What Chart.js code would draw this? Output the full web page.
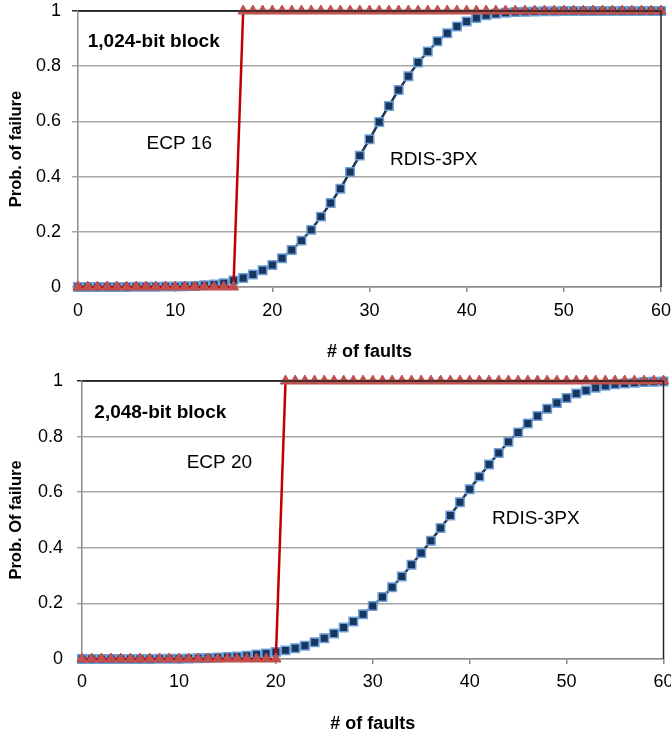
<!DOCTYPE html>
<html>
<head>
<meta charset="utf-8">
<script src="https://cdn.jsdelivr.net/npm/chart.js@4/dist/chart.umd.min.js"></script>
<style>
  html, body { margin: 0; padding: 0; background: #fff; }
  canvas { display: block; }
</style>
</head>
<body>
<canvas id="top" width="671" height="368"></canvas>
<canvas id="bottom" width="671" height="368"></canvas>
<script>
// x values: number of faults
const faults = [0, 1, 2, 3, 4, 5, 6, 7, 8, 9, 10, 11, 12, 13, 14, 15, 16, 17, 18, 19, 20,
  21, 22, 23, 24, 25, 26, 27, 28, 29, 30, 31, 32, 33, 34, 35, 36, 37, 38, 39, 40,
  41, 42, 43, 44, 45, 46, 47, 48, 49, 50, 51, 52, 53, 54, 55, 56, 57, 58, 59, 60];

// 1,024-bit block
const rdis1024 = [0, 0, 0, 0, 0, 0, 0.001, 0.001, 0.001, 0.002, 0.002, 0.003, 0.004, 0.006, 0.009, 0.014,
  0.024, 0.033, 0.045, 0.061, 0.08, 0.104, 0.134, 0.168, 0.207, 0.255, 0.304, 0.356, 0.417, 0.476,
  0.535, 0.598, 0.656, 0.714, 0.764, 0.813, 0.853, 0.89, 0.919, 0.944, 0.962, 0.975, 0.985, 0.99,
  0.994, 0.996, 0.997, 0.998, 0.999, 0.999, 1, 1, 1, 1, 1, 1, 1, 1, 1, 1, 1];
const ecp16 = [0, 0, 0, 0, 0, 0, 0, 0, 0, 0, 0, 0, 0, 0, 0, 0, 0,
  1, 1, 1, 1, 1, 1, 1, 1, 1, 1, 1, 1, 1, 1, 1, 1, 1, 1, 1, 1, 1, 1, 1, 1, 1, 1,
  1, 1, 1, 1, 1, 1, 1, 1, 1, 1, 1, 1, 1, 1, 1, 1, 1, 1, 1];

// 2,048-bit block
const rdis2048 = [0, 0, 0, 0, 0, 0, 0, 0, 0.001, 0.001, 0.001, 0.002, 0.003, 0.004, 0.005, 0.007,
  0.009, 0.012, 0.016, 0.02, 0.025, 0.031, 0.039, 0.048, 0.06, 0.075, 0.092, 0.113, 0.135, 0.161,
  0.191, 0.223, 0.258, 0.297, 0.339, 0.381, 0.425, 0.471, 0.516, 0.564, 0.611, 0.656, 0.7, 0.741,
  0.781, 0.815, 0.847, 0.874, 0.9, 0.921, 0.939, 0.955, 0.966, 0.976, 0.983, 0.988, 0.991, 0.994,
  0.996, 0.997, 0.998];
const ecp20 = [0, 0, 0, 0, 0, 0, 0, 0, 0, 0, 0, 0, 0, 0, 0, 0, 0, 0, 0, 0, 0,
  1, 1, 1, 1, 1, 1, 1, 1, 1, 1, 1, 1, 1, 1, 1, 1, 1, 1, 1, 1, 1, 1,
  1, 1, 1, 1, 1, 1, 1, 1, 1, 1, 1, 1, 1, 1, 1, 1, 1, 1];

const yTicks = [0, 0.2, 0.4, 0.6, 0.8, 1];
const yTickLabels = ['0', '0.2', '0.4', '0.6', '0.8', '1'];
const xTitle = '# of faults';

const FONT = '"Liberation Sans", Arial, sans-serif';

function points(ys) {
    return faults.map((x, i) => ({ x: x, y: ys[i] }));
}

// black frame on top and right of the plot area, plus the text notes
const framePlugin = {
    id: 'frameNotes',
    afterDraw: (chart, args, options) => {
        const { ctx, chartArea: a } = chart;
        ctx.save();
        ctx.strokeStyle = '#262626';
        ctx.lineWidth = 1.5;
        ctx.beginPath();
        ctx.moveTo(a.left, a.top);
        ctx.lineTo(a.right, a.top);
        ctx.lineTo(a.right, a.bottom);
        ctx.stroke();
        ctx.fillStyle = '#000';
        ctx.textAlign = 'left';
        ctx.textBaseline = 'middle';
        (options.notes || []).forEach(n => {
            ctx.font = (n.bold ? 'bold ' : '') + '19px ' + FONT;
            ctx.fillText(n.text, chart.scales.x.getPixelForValue(n.x), chart.scales.y.getPixelForValue(n.y));
        });
        ctx.restore();
    }
};

function makeChart(id, cfg) {
    return new Chart(document.getElementById(id), {
        type: 'line',
        data: {
            datasets: [
                {
                    label: cfg.ecpLabel,
                    data: points(cfg.ecp),
                    borderColor: '#C00000',
                    borderWidth: 2.5,
                    pointStyle: 'triangle',
                    pointRadius: 6,
                    pointBackgroundColor: '#C0504D',
                    pointBorderColor: '#C0504D',
                    pointBorderWidth: 1,
                    clip: false,
                    order: 0,
                },
                {
                    label: 'RDIS-3PX',
                    data: points(cfg.rdis),
                    borderColor: '#1B3358',
                    borderWidth: 2.5,
                    pointStyle: 'rect',
                    pointRadius: 6,
                    pointBackgroundColor: '#17365D',
                    pointBorderColor: '#6F9FD8',
                    pointBorderWidth: 1.5,
                    clip: false,
                    order: 1,
                },
            ],
        },
        options: {
            responsive: false,
            animation: false,
            layout: { padding: { left: 0, right: cfg.padRight, top: cfg.padTop, bottom: 0 } },
            plugins: {
                legend: { display: false },
                tooltip: { enabled: false },
                frameNotes: { notes: cfg.notes },
            },
            scales: {
                x: {
                    type: 'linear',
                    min: 0,
                    max: 60,
                    ticks: { stepSize: 10, color: '#000', padding: cfg.xTickPad, font: { family: FONT, size: 18 } },
                    grid: { drawOnChartArea: false, drawTicks: true, tickLength: 5, color: '#8C8C8C', lineWidth: 1.5 },
                    border: { color: '#8C8C8C', width: 1.5 },
                    title: {
                        display: true,
                        text: xTitle,
                        color: '#000',
                        font: { family: FONT, size: 18, weight: 'bold' },
                        padding: { top: 0, bottom: cfg.xTitlePad },
                    },
                    afterFit: s => { s.height = cfg.xHeight; s.paddingLeft = 0; s.paddingRight = 0; },
                },
                y: {
                    min: 0,
                    max: 1,
                    afterBuildTicks: s => { s.ticks = yTicks.map(v => ({ value: v })); },
                    ticks: {
                        color: '#000',
                        padding: cfg.yTickPad,
                        font: { family: FONT, size: 18 },
                        callback: (v, i) => yTickLabels[i],
                    },
                    grid: {
                        color: c => (c.tick && c.tick.value === 1 ? '#262626' : '#A6A6A6'),
                        lineWidth: 1.5,
                        tickLength: cfg.yTickLen,
                    },
                    border: { color: '#8C8C8C', width: 1.5 },
                    title: {
                        display: true,
                        text: cfg.yTitle,
                        color: '#000',
                        font: { family: FONT, size: 16.5, weight: 'bold' },
                        padding: { top: 7, bottom: 0 },
                    },
                    afterFit: s => { s.width = cfg.yWidth; s.paddingTop = 0; s.paddingBottom = 0; },
                },
            },
        },
        plugins: [framePlugin],
    });
}

let chartTop = makeChart('top', {
    rdis: rdis1024,
    ecp: ecp16,
    ecpLabel: 'ECP 16',
    yTitle: 'Prob. of failure',
    padTop: 11,
    padRight: 10,
    xHeight: 81,
    yWidth: 78,
    xTickPad: 8,
    xTitlePad: 5,
    yTickPad: 11,
    yTickLen: 6,
    notes: [
        { text: '1,024-bit block', x: 1.0, y: 0.888, bold: true },
        { text: 'ECP 16', x: 7.05, y: 0.518 },
        { text: 'RDIS-3PX', x: 32.1, y: 0.46 },
    ],
});

let chartBottom = makeChart('bottom', {
    rdis: rdis2048,
    ecp: ecp20,
    ecpLabel: 'ECP 20',
    yTitle: 'Prob. Of failure',
    padTop: 13,
    padRight: 7,
    xHeight: 77,
    yWidth: 82,
    xTickPad: 7,
    xTitlePad: 1,
    yTickPad: 14,
    yTickLen: 5,
    notes: [
        { text: '2,048-bit block', x: 1.27, y: 0.885, bold: true },
        { text: 'ECP 20', x: 10.8, y: 0.705 },
        { text: 'RDIS-3PX', x: 42.3, y: 0.503 },
    ],
});
</script>
</body>
</html>
